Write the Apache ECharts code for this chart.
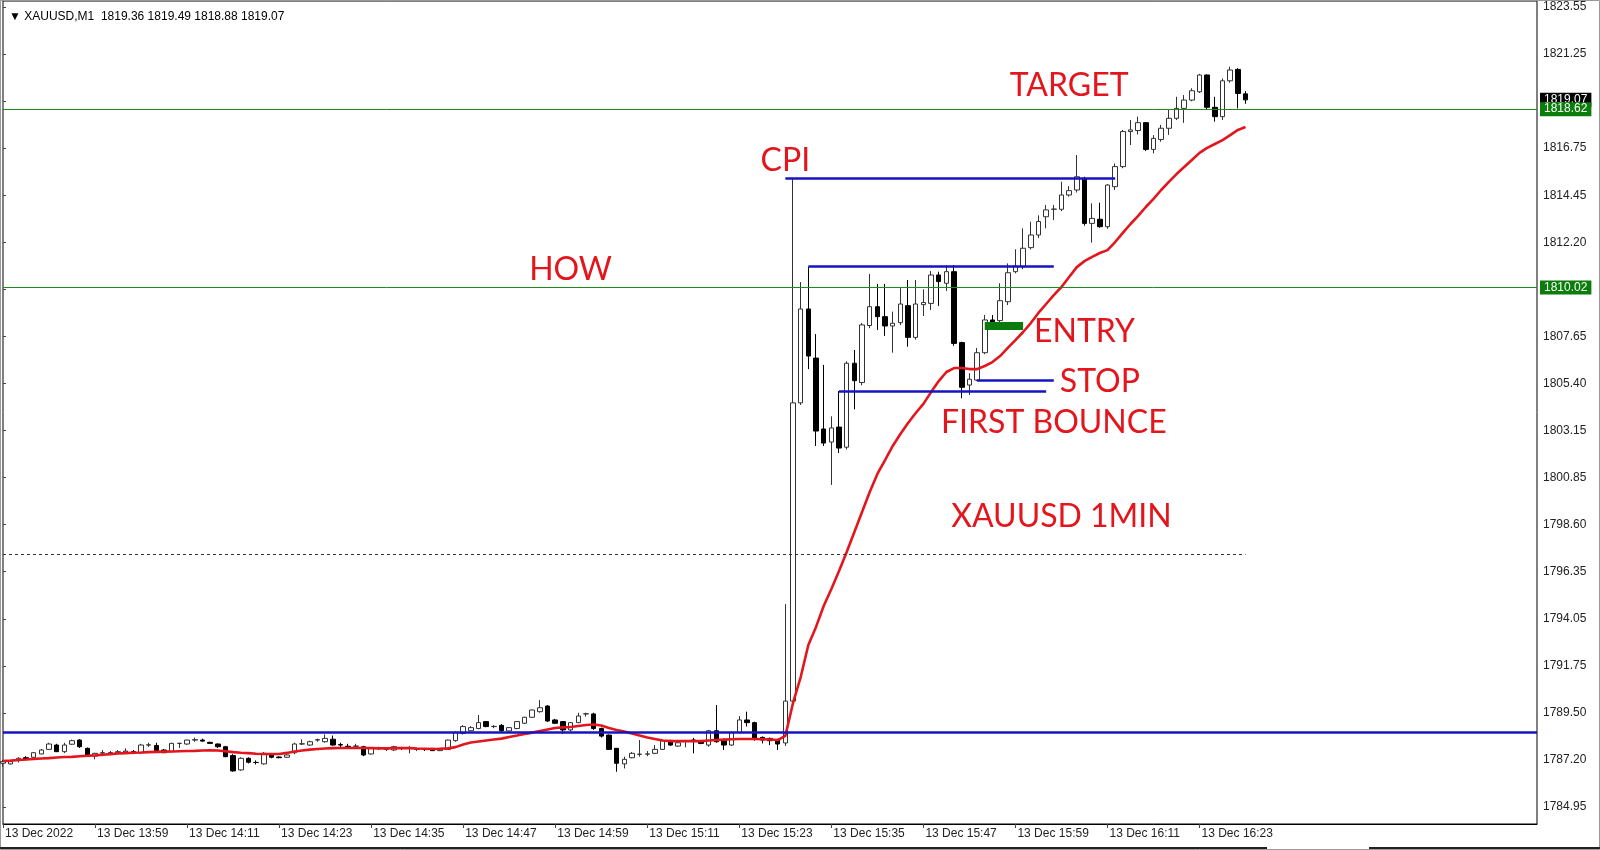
<!DOCTYPE html>
<html><head><meta charset="utf-8">
<script src="https://cdn.jsdelivr.net/npm/echarts@6/dist/echarts.min.js"></script>
<style>html,body{margin:0;padding:0;background:#fff}#c{width:1600px;height:850px}</style>
</head><body><div id="c"></div>
<script>
// ---- data: one row per 1-minute bar, [open, high, low, close] ----
const ohlc = [
[1787.06,1787.22,1786.90,1787.14],[1787.03,1787.22,1787.00,1787.14],[1787.19,1787.35,1787.10,1787.30],[1787.33,1787.40,1787.20,1787.25],
[1787.35,1787.60,1787.30,1787.57],[1787.51,1787.75,1787.50,1787.70],[1787.73,1788.05,1787.70,1787.99],[1787.94,1788.00,1787.60,1787.62],
[1787.62,1788.05,1787.55,1787.94],[1787.98,1788.20,1787.95,1788.15],[1788.18,1788.22,1787.80,1787.86],[1787.78,1787.82,1787.38,1787.41],
[1787.41,1787.56,1787.25,1787.54],[1787.55,1787.70,1787.40,1787.57],[1787.57,1787.65,1787.45,1787.57],[1787.57,1787.70,1787.50,1787.62],
[1787.60,1787.78,1787.55,1787.65],[1787.62,1787.70,1787.50,1787.54],[1787.57,1788.00,1787.50,1787.94],[1787.94,1788.05,1787.85,1787.95],
[1787.92,1788.05,1787.65,1787.67],[1787.70,1787.75,1787.55,1787.57],[1787.62,1788.05,1787.60,1788.02],[1788.02,1788.05,1787.80,1788.02],
[1787.99,1788.20,1787.95,1788.18],[1788.18,1788.30,1788.10,1788.20],[1788.18,1788.25,1788.10,1788.13],[1788.07,1788.10,1788.00,1788.02],
[1787.99,1788.02,1787.80,1787.86],[1787.86,1787.90,1787.35,1787.38],[1787.43,1787.50,1786.65,1786.69],[1786.74,1787.35,1786.70,1787.30],
[1787.30,1787.35,1787.05,1787.11],[1787.10,1787.20,1787.00,1787.10],[1787.03,1787.60,1787.00,1787.54],[1787.46,1787.50,1787.30,1787.35],
[1787.36,1787.40,1787.30,1787.33],[1787.35,1787.50,1787.33,1787.46],[1787.57,1788.05,1787.50,1787.99],[1787.99,1788.22,1787.94,1788.00],
[1787.94,1788.15,1787.90,1788.10],[1788.18,1788.25,1788.10,1788.20],[1788.10,1788.45,1788.05,1788.26],[1788.22,1788.40,1787.90,1787.94],
[1787.96,1788.05,1787.85,1787.94],[1787.88,1788.00,1787.80,1787.86],[1787.88,1788.00,1787.80,1787.89],[1787.86,1787.90,1787.40,1787.46],
[1787.51,1787.80,1787.48,1787.78],[1787.78,1787.86,1787.70,1787.79],[1787.73,1787.80,1787.65,1787.74],[1787.70,1787.90,1787.65,1787.86],
[1787.78,1787.85,1787.70,1787.78],[1787.78,1787.89,1787.54,1787.80],[1787.73,1787.80,1787.65,1787.74],[1787.74,1787.78,1787.65,1787.72],
[1787.78,1787.80,1787.65,1787.67],[1787.67,1787.80,1787.65,1787.78],[1787.73,1788.20,1787.70,1788.18],[1788.15,1788.60,1788.10,1788.54],
[1788.50,1788.90,1788.45,1788.83],[1788.63,1788.85,1788.60,1788.78],[1788.74,1789.39,1788.70,1789.02],[1789.07,1789.10,1788.80,1788.83],
[1788.83,1788.90,1788.75,1788.84],[1788.89,1788.95,1788.55,1788.63],[1788.62,1788.80,1788.55,1788.78],[1788.74,1789.10,1788.70,1789.07],
[1788.99,1789.30,1788.95,1789.28],[1789.28,1789.65,1789.25,1789.63],[1789.55,1790.11,1789.50,1789.74],[1789.82,1789.87,1789.05,1789.10],
[1789.15,1789.20,1788.95,1788.99],[1789.07,1789.10,1788.47,1788.67],[1788.67,1789.05,1788.60,1789.02],[1789.02,1789.50,1789.00,1789.34],
[1789.44,1789.50,1789.31,1789.45],[1789.44,1789.50,1788.67,1788.74],[1788.74,1788.78,1788.30,1788.37],[1788.42,1788.45,1787.70,1787.73],
[1787.78,1787.80,1786.65,1787.06],[1787.03,1787.38,1786.81,1787.25],[1787.33,1787.60,1787.30,1787.54],[1787.49,1788.18,1787.38,1787.50],
[1787.50,1787.65,1787.40,1787.51],[1787.54,1787.94,1787.50,1787.73],[1787.73,1788.20,1787.70,1788.15],[1788.15,1788.20,1787.90,1787.94],
[1787.89,1788.10,1787.85,1788.05],[1788.15,1788.18,1787.83,1788.16],[1788.18,1788.29,1787.54,1788.17],[1788.13,1788.18,1787.98,1788.02],
[1787.94,1788.67,1787.86,1788.63],[1788.63,1789.87,1788.05,1788.10],[1788.18,1788.25,1787.70,1787.94],[1787.94,1788.60,1787.90,1788.54],
[1788.54,1789.34,1788.50,1789.15],[1789.15,1789.55,1788.83,1789.02],[1789.02,1789.07,1788.15,1788.21],[1788.31,1788.35,1788.02,1788.18],
[1788.26,1788.30,1787.94,1788.15],[1788.18,1788.25,1787.70,1787.99],[1788.04,1794.74,1787.90,1790.06],[1790.06,1815.25,1789.95,1804.45],
[1804.45,1810.28,1804.35,1808.98],[1808.98,1811.02,1806.08,1806.71],[1806.61,1807.77,1802.37,1803.09],[1803.19,1806.28,1802.37,1802.51],
[1802.56,1803.80,1800.49,1803.24],[1803.28,1805.02,1802.03,1802.27],[1802.31,1806.45,1802.20,1806.36],[1806.36,1807.00,1804.14,1805.52],
[1805.43,1808.30,1805.30,1808.21],[1808.18,1810.67,1808.05,1809.09],[1809.09,1810.19,1807.97,1808.61],[1808.61,1810.19,1807.68,1808.16],
[1808.16,1808.85,1806.87,1808.29],[1808.32,1809.98,1808.20,1809.22],[1809.14,1810.38,1807.16,1807.61],[1807.61,1810.38,1807.50,1809.22],
[1809.19,1809.93,1808.64,1809.29],[1809.25,1810.81,1808.93,1810.62],[1810.62,1810.78,1809.13,1810.30],[1810.22,1811.10,1809.85,1810.78],
[1810.78,1811.10,1807.20,1807.32],[1807.36,1807.40,1804.67,1805.20],[1805.31,1805.88,1804.83,1805.59],[1805.55,1807.10,1805.50,1806.87],
[1806.87,1808.69,1806.80,1808.45],[1808.45,1808.69,1808.20,1808.34],[1808.42,1810.22,1808.30,1809.38],[1809.33,1811.18,1809.17,1810.73],
[1810.78,1811.86,1810.70,1811.05],[1811.02,1812.87,1810.90,1811.91],[1811.94,1813.19,1811.85,1812.55],[1812.55,1813.50,1812.40,1813.20],
[1813.43,1814.00,1812.87,1813.76],[1813.79,1814.00,1813.27,1813.80],[1813.79,1815.12,1813.70,1814.48],[1814.48,1814.91,1814.40,1814.69],
[1814.72,1816.41,1814.60,1815.36],[1815.28,1815.36,1813.00,1813.11],[1813.11,1814.08,1812.18,1813.35],[1813.31,1814.11,1812.90,1812.95],
[1812.95,1815.00,1812.85,1814.96],[1814.88,1816.00,1814.72,1815.85],[1815.85,1817.62,1815.77,1817.54],[1817.54,1818.10,1816.89,1817.62],
[1817.59,1818.26,1817.40,1817.97],[1817.97,1818.00,1816.60,1816.68],[1816.68,1817.37,1816.49,1817.21],[1817.16,1817.86,1817.05,1817.70],
[1817.70,1818.61,1817.38,1818.18],[1818.18,1819.22,1818.10,1818.66],[1818.66,1819.30,1817.96,1819.06],[1819.06,1819.63,1819.00,1819.51],
[1819.46,1820.32,1819.40,1820.27],[1820.27,1820.30,1818.60,1818.71],[1818.71,1819.22,1818.02,1818.26],[1818.26,1820.10,1818.10,1819.99],
[1819.99,1820.67,1819.90,1820.51],[1820.54,1820.60,1818.66,1819.38],[1819.36,1819.49,1818.88,1819.07]
];
// moving average (red line), one value per bar
const ma = [
1787.17,1787.19,1787.22,1787.24,1787.27,1787.29,1787.31,1787.34,1787.36,1787.37,
1787.40,1787.42,1787.44,1787.47,1787.50,1787.53,1787.55,1787.57,1787.58,1787.60,
1787.61,1787.62,1787.63,1787.64,1787.65,1787.66,1787.68,1787.69,1787.68,1787.64,
1787.60,1787.57,1787.55,1787.52,1787.51,1787.51,1787.51,1787.56,1787.63,1787.68,
1787.72,1787.75,1787.77,1787.79,1787.80,1787.80,1787.80,1787.80,1787.79,1787.78,
1787.78,1787.79,1787.79,1787.79,1787.77,1787.76,1787.75,1787.76,1787.78,1787.84,
1787.97,1788.06,1788.11,1788.16,1788.21,1788.25,1788.33,1788.40,1788.47,1788.54,
1788.62,1788.69,1788.76,1788.79,1788.81,1788.86,1788.91,1788.93,1788.88,1788.76,
1788.67,1788.59,1788.50,1788.40,1788.30,1788.23,1788.16,1788.13,1788.13,1788.13,
1788.13,1788.13,1788.16,1788.18,1788.20,1788.22,1788.23,1788.23,1788.23,1788.22,
1788.21,1788.18,1788.38,1789.97,1791.22,1792.77,1793.64,1794.65,1795.47,1796.34,
1797.25,1798.22,1799.18,1800.15,1801.02,1801.69,1802.37,1802.95,1803.48,1803.96,
1804.40,1804.97,1805.50,1805.94,1806.13,1806.13,1806.08,1806.08,1806.23,1806.42,
1806.71,1807.10,1807.48,1807.87,1808.30,1808.79,1809.22,1809.65,1810.04,1810.52,
1811.00,1811.29,1811.49,1811.68,1811.82,1812.21,1812.65,1813.08,1813.47,1813.90,
1814.29,1814.72,1815.11,1815.49,1815.83,1816.17,1816.51,1816.75,1816.94,1817.13,
1817.37,1817.62,1817.76
];
const yTickLabels = ['1784.95','1787.20','1789.50','1791.75','1794.05','1796.35','1798.60','1800.85','1803.15','1805.40','1807.65','','1812.20','1814.45','1816.75','','1821.25','1823.55'];
const xTickLabels = ['13 Dec 2022','13 Dec 13:59','13 Dec 14:11','13 Dec 14:23','13 Dec 14:35','13 Dec 14:47','13 Dec 14:59','13 Dec 15:11','13 Dec 15:23','13 Dec 15:35','13 Dec 15:47','13 Dec 15:59','13 Dec 16:11','13 Dec 16:23'];
const targetLevel = 1818.62, howLevel = 1810.02, baseLevel = 1788.58, dottedLevel = 1797.16, lastPrice = 1819.07;
const blueSegments = [[102,145,1815.28],[105,137,1811.02],[127,137,1805.55],[109,136,1804.99]]; // [fromBar, toBar, price]
const entryZone = [128,133,1808.16];
const dottedSpan = [0,162];
const annotations = [['TARGET',139,1819.74],['CPI',102,1816.12],['HOW',74,1810.86],['ENTRY',141,1807.87],['STOP',143,1805.46],['FIRST BOUNCE',137,1803.48],['XAUUSD 1MIN',138,1798.94]];
const titleText = '\u25BC XAUUSD,M1  1819.36 1819.49 1818.88 1819.07';

// ---- axes setup ----
const slotCount = 201, startMinute = 13*60+47;
const categories = Array.from({length: slotCount}, (_, i) => {
  const m = startMinute + i;
  return String(Math.floor(m/60)).padStart(2,'0') + ':' + String(m%60).padStart(2,'0');
});
const PLOT = {left: 3, right: 63, top: 1, bottom: 26};
const yMin = 1784.13, yMax = 1823.84;
const tickBase = parseFloat(yTickLabels[0]), tickTop = parseFloat(yTickLabels[yTickLabels.length-1]);
// second (label-only) grid: its bottom sits on the first tick price, its top on the last one
const pxPerUnit = (850 - PLOT.top - PLOT.bottom) / (yMax - yMin);
const labelGridTop = PLOT.top + (yMax - tickTop) * pxPerUnit;
const labelGridBottom = PLOT.bottom + (tickBase - yMin) * pxPerUnit;
const showTick = i => i % 12 === 0 && i / 12 < xTickLabels.length;

const FONT = 'Liberation Sans';
const BLUE = '#1414c0', RED = '#e3161d';

const lineMarks = [];
lineMarks.push({yAxis: baseLevel, lineStyle: {color: BLUE, width: 2.5, type: 'solid'}});
lineMarks.push([{coord: [dottedSpan[0], dottedLevel], lineStyle: {color: '#333', width: 1, type: [3,3]}},
                {coord: [dottedSpan[1], dottedLevel], lineStyle: {color: '#333', width: 1, type: [3,3]}}]);
blueSegments.forEach(([a, b, p]) => lineMarks.push([
  {coord: [a, p], lineStyle: {color: BLUE, width: 2.5, type: 'solid'}},
  {coord: [b, p], lineStyle: {color: BLUE, width: 2.5, type: 'solid'}}]));
lineMarks.push([{coord: [entryZone[0], entryZone[2]], lineStyle: {color: '#0c7a0c', width: 8, type: 'solid', cap: 'butt'}},
                {coord: [entryZone[1], entryZone[2]], lineStyle: {color: '#0c7a0c', width: 8, type: 'solid', cap: 'butt'}}]);
const priceLabel = (bg, txt) => ({show: true, position: 'end', distance: 3, formatter: txt, backgroundColor: bg,
  color: '#fff', fontSize: 12, fontFamily: FONT, padding: [1,4,0,4], lineHeight: 13});
lineMarks.push({yAxis: lastPrice, lineStyle: {color: 'rgba(0,0,0,0)', width: 1}, label: priceLabel('#000', lastPrice.toFixed(2))});
lineMarks.push({yAxis: targetLevel, lineStyle: {color: '#1e8a1e', width: 1, type: 'solid'}, label: priceLabel('#0a7d0a', targetLevel.toFixed(2))});
lineMarks.push({yAxis: howLevel, lineStyle: {color: '#1e8a1e', width: 1, type: 'solid'}, label: priceLabel('#0a7d0a', howLevel.toFixed(2))});

const chart = echarts.init(document.getElementById('c'), null, {renderer: 'canvas'});
chart.setOption({
  animation: false,
  backgroundColor: '#fff',
  title: {text: titleText, left: 4, top: 6, textStyle: {fontSize: 12, fontWeight: 'normal', color: '#000', fontFamily: FONT}},
  grid: [
    {left: PLOT.left, right: PLOT.right, top: PLOT.top, bottom: PLOT.bottom, show: true, borderColor: '#000', borderWidth: 1, containLabel: false, outerBoundsMode: 'none'},
    {left: PLOT.left, right: PLOT.right, top: labelGridTop, bottom: labelGridBottom, show: false, containLabel: false, outerBoundsMode: 'none'}
  ],
  xAxis: [{
    type: 'category', gridIndex: 0, data: categories, boundaryGap: false,
    axisLine: {show: true, lineStyle: {color: '#000', width: 1}},
    axisTick: {show: true, interval: showTick, length: 4, lineStyle: {color: '#444'}},
    axisLabel: {show: true, interval: showTick, formatter: (v, i) => xTickLabels[i / 12] || '', align: 'left',
      margin: 4, fontSize: 12, color: '#222', fontFamily: FONT, padding: [0,0,0,2]},
    splitLine: {show: false}
  }, {type: 'value', gridIndex: 1, show: false, min: 0, max: 1}],
  yAxis: [
    {type: 'value', gridIndex: 0, position: 'right', min: yMin, max: yMax, show: false, splitLine: {show: false}},
    {type: 'value', gridIndex: 1, position: 'right', min: 0, max: yTickLabels.length - 1, interval: 1,
      axisLine: {show: false},
      axisTick: {show: true, length: 3, lineStyle: {color: '#444'}},
      axisLabel: {show: true, margin: 6, fontSize: 12, color: '#222', fontFamily: FONT,
        formatter: v => yTickLabels[Math.round(v)] || ''},
      splitLine: {show: false}}
  ],
  series: [
    {type: 'candlestick', xAxisIndex: 0, yAxisIndex: 0, barWidth: 5, silent: true, z: 2,
      data: ohlc.map(([o, h, l, c]) => [o, c, l, h]),
      itemStyle: {color: '#fff', color0: '#000', borderColor: '#333', borderColor0: '#000', borderWidth: 1}},
    {type: 'line', xAxisIndex: 0, yAxisIndex: 0, data: ma, symbol: 'none', silent: true, z: 3,
      lineStyle: {color: RED, width: 2.6}},
    {type: 'line', xAxisIndex: 0, yAxisIndex: 0, data: [], silent: true, z: 4,
      markLine: {silent: true, symbol: ['none', 'none'], animation: false, label: {show: false}, data: lineMarks},
      markPoint: {silent: true, animation: false, symbol: 'circle', symbolSize: 1, itemStyle: {color: 'rgba(0,0,0,0)'},
        label: {show: true, position: 'inside', formatter: '{b}', color: RED, fontSize: 32, fontFamily: 'Lato'},
        data: annotations.map(([t, b, p]) => ({name: t, coord: [b, p], value: p}))}}
  ],
  graphic: [
    {type: 'rect', shape: {x: 0.5, y: 0.5, width: 1599, height: 849}, style: {fill: 'none', stroke: '#999', lineWidth: 1}, silent: true},
    {type: 'line', shape: {x1: 0, y1: 848, x2: 1267, y2: 848}, style: {stroke: '#222', lineWidth: 2}, silent: true},
    {type: 'line', shape: {x1: 1369, y1: 848, x2: 1600, y2: 848}, style: {stroke: '#222', lineWidth: 2}, silent: true}
  ]
});
</script></body></html>
